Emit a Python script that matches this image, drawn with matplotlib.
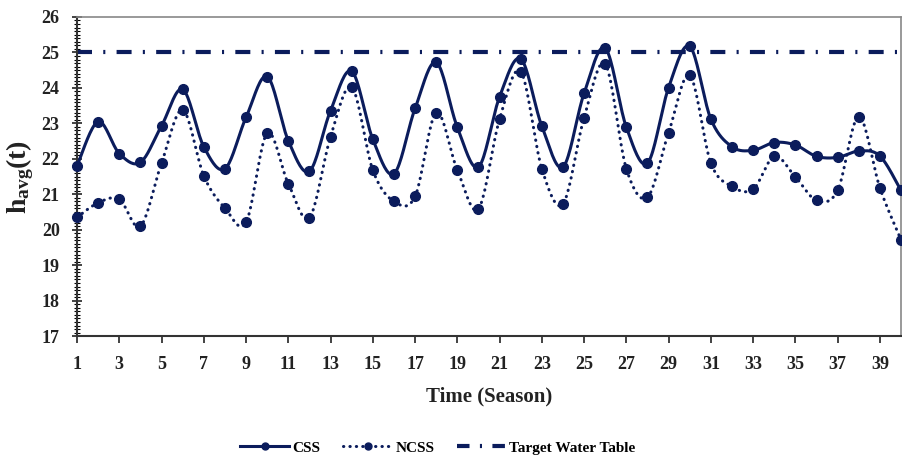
import numpy as np
import matplotlib
matplotlib.use("Agg")
import matplotlib.pyplot as plt
from matplotlib.lines import Line2D
from matplotlib.ticker import MultipleLocator

plt.rcParams['font.family'] = ['Liberation Serif', 'DejaVu Serif']
plt.rcParams['font.weight'] = 'bold'
plt.rcParams['mathtext.fontset'] = 'custom'
plt.rcParams['mathtext.rm'] = 'Liberation Serif:bold'
plt.rcParams['mathtext.bf'] = 'Liberation Serif:bold'
plt.rcParams['mathtext.it'] = 'Liberation Serif:bold'

seasons = list(range(1, 41))
css = [21.80, 23.05, 22.15, 21.90, 22.93, 23.96, 22.34, 21.72, 23.17, 24.32,
       22.51, 21.65, 23.36, 24.47, 22.55, 21.58, 23.42, 24.72, 22.89, 21.77,
       23.75, 24.82, 22.92, 21.77, 23.85, 25.12, 22.89, 21.88, 24.01, 25.17,
       23.12, 22.34, 22.24, 22.46, 22.39, 22.07, 22.04, 22.22, 22.08, 21.11]
ncss = [20.35, 20.76, 20.86, 20.10, 21.88, 23.38, 21.52, 20.61, 20.21, 22.72,
        21.30, 20.34, 22.62, 24.02, 21.68, 20.80, 20.94, 23.30, 21.68, 20.59,
        23.12, 24.46, 21.72, 20.73, 23.16, 24.67, 21.72, 20.92, 22.74, 24.35,
        21.88, 21.22, 21.14, 22.07, 21.49, 20.83, 21.11, 23.19, 21.18, 19.72]
target_level = 25.0

series_labels = ["CSS", "NCSS", "Target Water Table"]
x_ticks = list(range(1, 40, 2))
y_ticks = list(range(17, 27))

NAVY = '#0b1c5c'


def smooth_curve(xs, ys, steps=20):
    """Catmull-Rom style cubic Bezier through every point."""
    xs = np.asarray(xs, float)
    ys = np.asarray(ys, float)
    n = len(xs)
    out_x, out_y = [], []
    t = np.linspace(0, 1, steps, endpoint=False)
    for i in range(n - 1):
        i0 = max(i - 1, 0)
        i3 = min(i + 2, n - 1)
        p0 = np.array([xs[i], ys[i]])
        p3 = np.array([xs[i + 1], ys[i + 1]])
        c1 = p0 + (np.array([xs[i + 1], ys[i + 1]]) - np.array([xs[i0], ys[i0]])) / 6
        c2 = p3 - (np.array([xs[i3], ys[i3]]) - np.array([xs[i], ys[i]])) / 6
        b = ((1 - t) ** 3)[:, None] * p0 + (3 * (1 - t) ** 2 * t)[:, None] * c1 \
            + (3 * (1 - t) * t ** 2)[:, None] * c2 + (t ** 3)[:, None] * p3
        out_x.extend(b[:, 0])
        out_y.extend(b[:, 1])
    out_x.append(xs[-1])
    out_y.append(ys[-1])
    return np.array(out_x), np.array(out_y)


fig = plt.figure(figsize=(9.03, 4.58), dpi=100)
ax = fig.add_axes([0.0853, 0.266, 0.9125, 0.697])

sx, sy = smooth_curve(seasons, css)
ax.plot(sx, sy, color=NAVY, lw=2.2, solid_capstyle='round', zorder=3)
ax.plot(seasons, css, 'o', color=NAVY, ms=7, zorder=4, clip_on=False)

nx, ny = smooth_curve(seasons, ncss)
ax.plot(nx, ny, color=NAVY, lw=2.2, linestyle=(0, (0.1, 2.0)),
        dash_capstyle='round', zorder=3)
ax.plot(seasons, ncss, 'o', color=NAVY, ms=7, zorder=4, clip_on=False)

ax.axhline(target_level, color=NAVY, lw=3.0,
           linestyle=(0, (3.6, 2.7, 0.5, 2.7)), zorder=2)

ax.set_xlim(1, 40)
ax.set_ylim(17, 26)
ax.set_xticks(x_ticks)
ax.set_xticklabels([str(v) for v in x_ticks])
ax.set_yticks(y_ticks)
ax.yaxis.set_minor_locator(MultipleLocator(0.1))

ax.tick_params(axis='both', labelsize=13, colors='#222222')
ax.tick_params(axis='x', which='major', direction='out', length=5, width=1.2, pad=9)
ax.tick_params(axis='y', which='major', direction='inout', length=7, width=1.2, pad=9)
ax.tick_params(axis='y', which='minor', direction='inout', length=4, width=0.8)
for lab in ax.get_xticklabels() + ax.get_yticklabels():
    lab.set_fontweight('bold')

for side in ['left', 'bottom']:
    ax.spines[side].set_color('#333333')
    ax.spines[side].set_linewidth(1.5)
for side in ['top', 'right']:
    ax.spines[side].set_color('#888888')
    ax.spines[side].set_linewidth(1.2)

ax.set_xlabel("Time (Season)", fontsize=15, fontweight='bold', labelpad=10,
              color='#222222')
ax.set_ylabel(r"$\mathbf{h_{avg}(t)}$", fontsize=20, labelpad=4, color='#222222')

handles = [
    Line2D([], [], color=NAVY, lw=2.2, marker='o', ms=5),
    Line2D([], [], color=NAVY, lw=2.2, linestyle=(0, (0.1, 2.0)),
           dash_capstyle='round', marker='o', ms=5),
    Line2D([], [], color=NAVY, lw=3.0, linestyle=(0, (3.0, 2.5, 0.5, 2.5))),
]
fig.legend(handles, series_labels, loc='center', bbox_to_anchor=(0.485, 0.022),
           ncol=3, frameon=False,
           prop={'family': 'Liberation Serif', 'weight': 'bold', 'size': 11},
           handlelength=3.2, handletextpad=0.2, columnspacing=1.5)

fig.savefig("out.png", dpi=100)
